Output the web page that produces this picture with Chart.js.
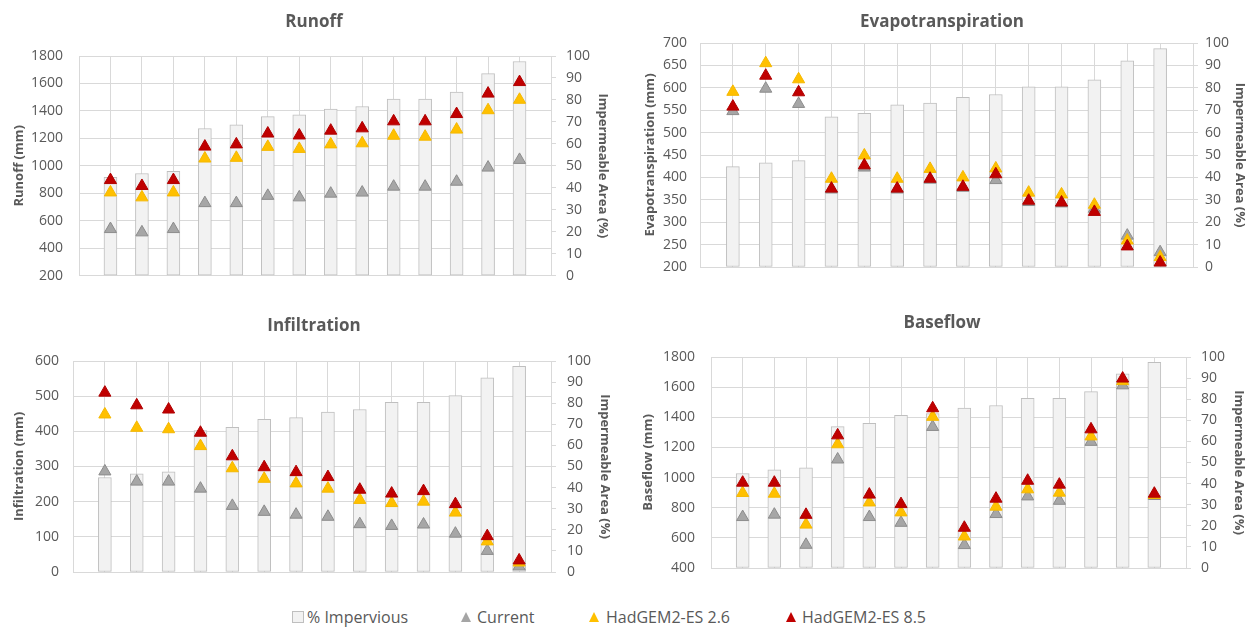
<!DOCTYPE html>
<html>
<head>
<meta charset="utf-8">
<script src="https://cdn.jsdelivr.net/npm/chart.js@4.4.0/dist/chart.umd.min.js"></script>
<style>
html,body{margin:0;padding:0;background:#fff;width:1256px;height:627px;overflow:hidden;font-family:"Open Sans",sans-serif;}
.panel{position:absolute;width:628px;height:300px;}
.legtxt{position:absolute;top:606px;height:22px;line-height:22px;font-size:16px;color:#595959;white-space:nowrap;}
.tri{position:absolute;top:612px;width:0;height:0;border-left:5.5px solid transparent;border-right:5.5px solid transparent;border-bottom:10px solid #000;}
.box{position:absolute;top:611px;width:10px;height:10px;background:#f2f2f2;border:1px solid #bfbfbf;}
</style>
</head>
<body>
<div class="panel" style="left:0;top:0"><canvas id="cRunoff"></canvas></div>
<div class="panel" style="left:628px;top:0"><canvas id="cEvap"></canvas></div>
<div class="panel" style="left:0;top:300px"><canvas id="cInfil"></canvas></div>
<div class="panel" style="left:628px;top:300px"><canvas id="cBase"></canvas></div>

<div class="box" style="left:292px"></div>
<div class="legtxt" style="left:307px">% Impervious</div>
<div class="tri" style="left:461px;border-bottom-color:#a5a5a5"></div>
<div class="legtxt" style="left:477px">Current</div>
<div class="tri" style="left:589px;border-bottom-color:#ffc000"></div>
<div class="legtxt" style="left:606px">HadGEM2-ES 2.6</div>
<div class="tri" style="left:786px;border-bottom-color:#c00000"></div>
<div class="legtxt" style="left:802px">HadGEM2-ES 8.5</div>

<script>
// ---- data ----
const sites = [1, 2, 3, 4, 5, 6, 7, 8, 9, 10, 11, 12, 13, 14];
const imperviousPct = [44.8, 46.5, 47.5, 67, 68.6, 72.4, 73.2, 75.8, 77, 80.4, 80.4, 83.6, 92, 97.5];

const runoffCurrent = [539, 515, 539, 728, 728, 781, 770, 797, 805, 848, 848, 884, 987, 1043];
const runoffHad26   = [806, 770, 806, 1053, 1058, 1138, 1123, 1156, 1164, 1219, 1212, 1264, 1405, 1481];
const runoffHad85   = [896, 853, 896, 1140, 1156, 1235, 1221, 1256, 1273, 1324, 1324, 1377, 1526, 1610];

const evapCurrent = [548, 598, 564, 373, 422, 373, 395, 377, 394, 345, 342, 330, 270, 233];
const evapHad26   = [591, 655, 619, 397, 449, 397, 419, 400, 420, 366, 362, 339, 259, 222];
const evapHad85   = [558, 627, 590, 375, 427, 375, 397, 379, 407, 348, 344, 323, 246, 210];

const infilCurrent = [286, 257, 257, 237, 188, 171, 163, 157, 136, 131, 135, 109, 60, 16];
const infilHad26   = [448, 410, 406, 358, 295, 265, 252, 237, 205, 196, 200, 169, 87, 27];
const infilHad85   = [510, 474, 462, 396, 329, 298, 284, 270, 234, 223, 230, 193, 102, 33];

const baseCurrent = [738, 754, 554, 1120, 738, 700, 1336, 552, 758, 875, 846, 1237, 1612, 878];
const baseHad26   = [898, 893, 688, 1221, 835, 769, 1403, 609, 807, 922, 900, 1273, 1640, 885];
const baseHad85   = [966, 966, 753, 1280, 887, 824, 1460, 667, 860, 979, 953, 1320, 1657, 893];

const seriesNames = ['% Impervious', 'Current', 'HadGEM2-ES 2.6', 'HadGEM2-ES 8.5'];

// ---- styling ----
const TXT = '#595959';
const GRID = '#d9d9d9';
const FONT = '"Open Sans", sans-serif';
const plain = v => String(v);

function makePanel(id, p) {
  const W = 628, H = 300;
  const tri = (label, data, fill, border, order) => ({
    type: 'line', label, data, yAxisID: 'y', showLine: false,
    pointStyle: 'triangle', pointRadius: 7, pointHoverRadius: 7,
    pointBackgroundColor: fill, pointBorderColor: border, pointBorderWidth: 1,
    order
  });
  new Chart(document.getElementById(id), {
    data: {
      labels: sites,
      datasets: [
        tri(seriesNames[3], p.h85, '#c00000', '#b00000', 1),
        tri(seriesNames[2], p.h26, '#ffc000', '#f5b800', 2),
        tri(seriesNames[1], p.cur, '#a6a6a6', '#8c8c8c', 3),
        { type: 'bar', label: seriesNames[0], data: imperviousPct, yAxisID: 'y1',
          backgroundColor: '#f2f2f2', borderColor: '#bfbfbf', borderWidth: 1,
          borderSkipped: false, barThickness: 13, order: 4 }
      ]
    },
    options: {
      responsive: true, maintainAspectRatio: false, animation: false, events: [],
      layout: { padding: { left: 0, right: 0, top: 0, bottom: H - p.B } },
      plugins: {
        legend: { display: false },
        tooltip: { enabled: false },
        title: {
          display: true, text: p.title, color: TXT,
          font: { family: FONT, size: 17, weight: 'bold', lineHeight: 1.2 },
          padding: { top: p.titleY - 10.2, bottom: p.T - 20.4 - (p.titleY - 10.2) }
        }
      },
      scales: {
        x: {
          type: 'linear', min: 0, max: sites.length + 1, offset: false,
          afterFit: s => { s.height = 0; },
          ticks: { display: false, stepSize: 1 },
          grid: { color: GRID, drawTicks: false, offset: false },
          border: { color: GRID }
        },
        y: {
          position: 'left', min: p.min, max: p.max,
          afterFit: s => { s.width = p.L; },
          ticks: { stepSize: p.step, padding: p.tickGap, color: TXT, callback: plain,
                   font: { family: FONT, size: 14 } },
          grid: { color: GRID, drawTicks: false },
          border: { color: GRID },
          title: { display: true, text: p.yTitle, color: TXT,
                   font: { family: FONT, size: 13, weight: 'bold', lineHeight: 1.2 },
                   padding: { top: p.leftTitleX - 7.8, bottom: 0 } }
        },
        y1: {
          position: 'right', min: 0, max: 100,
          afterFit: s => { s.width = W - p.R; },
          ticks: { stepSize: 10, padding: p.rightPad, color: TXT, callback: plain,
                   font: { family: FONT, size: 14 } },
          grid: { drawOnChartArea: false, color: GRID, tickLength: 5 },
          border: { color: GRID },
          title: { display: true, text: 'Impermeable Area (%)', color: TXT,
                   font: { family: FONT, size: 13, weight: 'bold', lineHeight: 1.2 },
                   padding: { top: W - p.rightTitleX - 7.8, bottom: 0 } }
        }
      }
    }
  });
}

makePanel('cRunoff', { title: 'Runoff', yTitle: 'Runoff (mm)', min: 200, max: 1800, step: 200,
  cur: runoffCurrent, h26: runoffHad26, h85: runoffHad85,
  L: 79, R: 551, T: 56, B: 277, titleY: 22, leftTitleX: 19, tickGap: 16, rightPad: 10, rightTitleX: 603 });

makePanel('cEvap', { title: 'Evapotranspiration', yTitle: 'Evapotranspiration (mm)', min: 200, max: 700, step: 50,
  cur: evapCurrent, h26: evapHad26, h85: evapHad85,
  L: 72, R: 565, T: 43, B: 267, titleY: 22, leftTitleX: 22, tickGap: 13, rightPad: 7, rightTitleX: 612 });

makePanel('cInfil', { title: 'Infiltration', yTitle: 'Infiltration (mm)', min: 0, max: 600, step: 100,
  cur: infilCurrent, h26: infilHad26, h85: infilHad85,
  L: 73, R: 551, T: 61, B: 272, titleY: 26, leftTitleX: 19, tickGap: 14, rightPad: 11, rightTitleX: 605 });

makePanel('cBase', { title: 'Baseflow', yTitle: 'Baseflow (mm)', min: 400, max: 1800, step: 200,
  cur: baseCurrent, h26: baseHad26, h85: baseHad85,
  L: 83, R: 558, T: 57, B: 268, titleY: 23.5, leftTitleX: 20.5, tickGap: 16, rightPad: 10, rightTitleX: 611 });
</script>
</body>
</html>
